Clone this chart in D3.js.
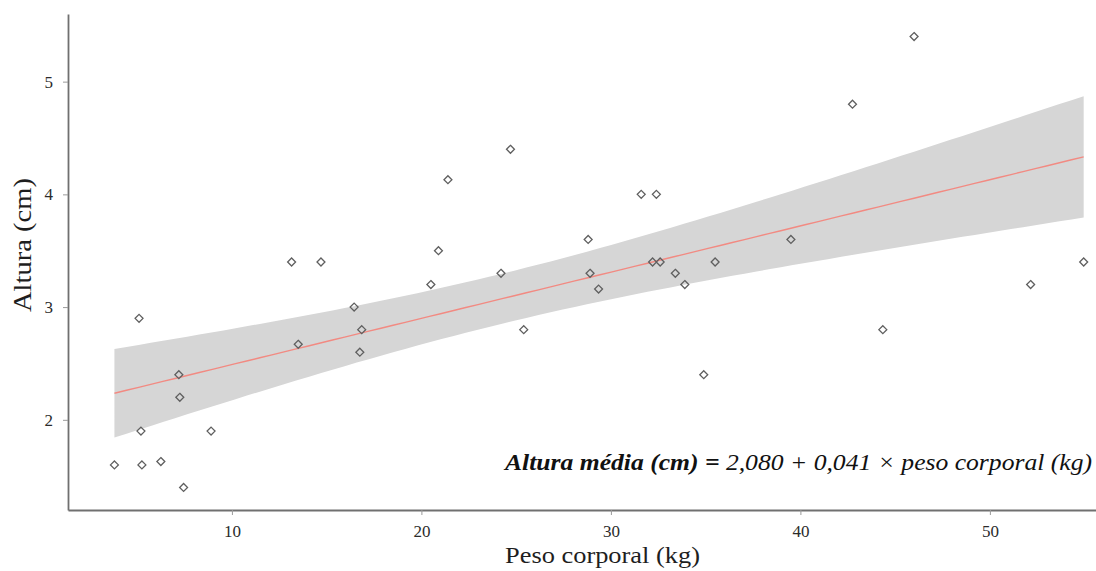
<!DOCTYPE html>
<html>
<head>
<meta charset="utf-8">
<script src="https://cdn.jsdelivr.net/npm/d3@7"></script>
<style>
  html, body { margin: 0; padding: 0; background: #fff; }
  svg { display: block; }
  text { font-family: "Liberation Serif", "Times New Roman", serif; }
</style>
</head>
<body>
<svg id="chart" width="1096" height="571"></svg>
<script>
// Body weight (kg) and height (cm) for each observation
const pesoCorporal = [3.8, 5.1, 5.2, 5.25, 6.25, 7.2, 7.25, 7.45, 8.9,
  13.5, 13.15, 14.7, 16.45, 16.85, 16.75, 20.5, 20.9, 21.4, 24.7, 24.2, 25.4,
  28.8, 28.9, 29.35, 31.6, 32.4, 32.2, 32.6, 33.4, 33.9, 35.5, 34.9,
  39.5, 44.35, 46.0, 42.75, 52.15, 54.95];
const altura = [1.6, 2.9, 1.9, 1.6, 1.63, 2.4, 2.2, 1.4, 1.9,
  2.67, 3.4, 3.4, 3.0, 2.8, 2.6, 3.2, 3.5, 4.13, 4.4, 3.3, 2.8,
  3.6, 3.3, 3.16, 4.0, 4.0, 3.4, 3.4, 3.3, 3.2, 3.4, 2.4,
  3.6, 2.8, 5.4, 4.8, 3.2, 3.4];

// Fitted model coefficients
const intercepto = 2.080;
const inclinacao = 0.041;

const xTicks = [10, 20, 30, 40, 50];
const yTicks = [2, 3, 4, 5];
const xDomain = [1.35, 55.6];
const yDomain = [1.2, 5.6];

const svg = d3.select("#chart");
const plotLeft = 68, plotRight = 1096, plotTop = 14, plotBottom = 510;

const x = d3.scaleLinear().domain(xDomain).range([plotLeft, plotRight]);
const y = d3.scaleLinear().domain(yDomain).range([plotBottom, plotTop]);

// 95% confidence band for the mean response
const n = pesoCorporal.length;
const xbar = d3.mean(pesoCorporal);
const sxx = d3.sum(pesoCorporal, v => (v - xbar) ** 2);
const fit = v => intercepto + inclinacao * v;
const sse = d3.sum(pesoCorporal, (v, i) => (altura[i] - fit(v)) ** 2);
const s = Math.sqrt(sse / (n - 2));
const tCrit = 2.028;
const [xLo, xHi] = d3.extent(pesoCorporal);
const grid = d3.range(0, 81).map(i => xLo + (xHi - xLo) * i / 80);
const band = grid.map(v => {
  const se = s * Math.sqrt(1 / n + (v - xbar) ** 2 / sxx);
  return { v, lo: fit(v) - tCrit * se, hi: fit(v) + tCrit * se, m: fit(v) };
});

svg.append("path")
  .datum(band)
  .attr("fill", "#d6d6d6")
  .attr("d", d3.area().x(d => x(d.v)).y0(d => y(d.lo)).y1(d => y(d.hi)));

svg.append("path")
  .datum(band)
  .attr("fill", "none")
  .attr("stroke", "#f28a82")
  .attr("stroke-width", 1.4)
  .attr("d", d3.line().x(d => x(d.v)).y(d => y(d.m)));

// Observations as open diamonds
const diamond = d3.symbol().type(d3.symbolDiamond2).size(40);
svg.append("g")
  .selectAll("path")
  .data(pesoCorporal)
  .join("path")
  .attr("transform", (v, i) => `translate(${x(v)},${y(altura[i])})`)
  .attr("d", diamond)
  .attr("fill", "none")
  .attr("stroke", "#5f5f5f")
  .attr("stroke-width", 1.3);

// Axes
const xAxis = svg.append("g")
  .attr("transform", `translate(0,${plotBottom})`)
  .call(d3.axisBottom(x).tickValues(xTicks).tickFormat(d3.format("d"))
    .tickSize(5).tickPadding(10).tickSizeOuter(0));
const yAxis = svg.append("g")
  .attr("transform", `translate(${plotLeft},0)`)
  .call(d3.axisLeft(y).tickValues(yTicks).tickFormat(d3.format("d"))
    .tickSize(5).tickPadding(10).tickSizeOuter(0));

[xAxis, yAxis].forEach(g => {
  g.select(".domain").attr("stroke", "#707070").attr("stroke-width", 1.8);
  g.selectAll(".tick line").attr("stroke", "#9a9a9a").attr("stroke-width", 1);
  g.selectAll(".tick text")
    .attr("fill", "#2b2b2b")
    .style("font-family", "'Liberation Serif', serif")
    .style("font-size", "17px");
});

// Axis titles
svg.append("text")
  .attr("x", 505).attr("y", 563)
  .attr("fill", "#1e1e1e")
  .attr("textLength", 195)
  .attr("lengthAdjust", "spacingAndGlyphs")
  .style("font-size", "23px")
  .text("Peso corporal (kg)");

svg.append("text")
  .attr("transform", "translate(31,245) rotate(-90)")
  .attr("text-anchor", "middle")
  .attr("fill", "#1e1e1e")
  .attr("textLength", 134)
  .attr("lengthAdjust", "spacingAndGlyphs")
  .style("font-size", "25px")
  .text("Altura (cm)");

// Model equation
const eq = svg.append("text")
  .attr("x", 505).attr("y", 470)
  .attr("fill", "#111")
  .attr("textLength", 587)
  .attr("lengthAdjust", "spacingAndGlyphs")
  .style("font-size", "24px")
  .style("font-style", "italic");
eq.append("tspan").style("font-weight", "bold").text("Altura média (cm) = ");
eq.append("tspan").text("2,080 + 0,041 × peso corporal (kg)");
</script>
</body>
</html>
